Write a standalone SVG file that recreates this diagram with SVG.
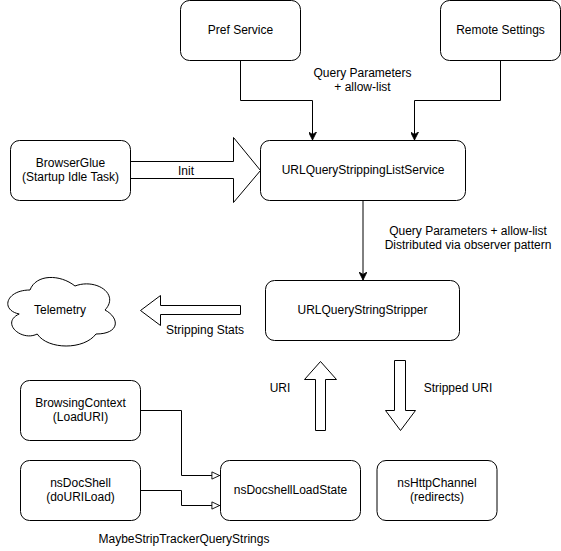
<svg xmlns="http://www.w3.org/2000/svg" width="561" height="551" viewBox="0 0 561 551">
  <defs>
    <style>
      .box { fill: #ffffff; stroke: #000000; stroke-width: 1; }
      .lbl { font-family: "Liberation Sans", Arial, Helvetica, sans-serif; font-size: 12px; fill: #000000; text-anchor: middle; }
      .edge { fill: none; stroke: #000000; stroke-width: 1; }
      .fat { fill: #ffffff; stroke: #000000; stroke-width: 1; stroke-linejoin: miter; }
    </style>
    <marker id="classic" viewBox="0 0 10 10" refX="10" refY="5" markerWidth="8" markerHeight="8" markerUnits="userSpaceOnUse" orient="auto">
      <path d="M0,0 L10,5 L0,10 L3,5 Z" fill="#000000" stroke="#000000" stroke-width="1"/>
    </marker>
    <marker id="block" viewBox="0 0 10 10" refX="10" refY="5" markerWidth="9" markerHeight="9" markerUnits="userSpaceOnUse" orient="auto">
      <path d="M1,1 L9.5,5 L1,9 Z" fill="#ffffff" stroke="#000000" stroke-width="1"/>
    </marker>
  </defs>
  <rect x="0" y="0" width="561" height="551" fill="#ffffff"/>

  <g id="connectors">
    <path class="edge" d="M240.5,60.5 V100.5 H312.5 V140" marker-end="url(#classic)"/>
    <path class="edge" d="M500.5,60.5 V100.5 H414.5 V140" marker-end="url(#classic)"/>
    <path class="edge" d="M363,200.5 V280" marker-end="url(#classic)"/>
    <path class="edge" d="M140.5,410.5 H181.5 V475.5 H220" marker-end="url(#block)"/>
    <path class="edge" d="M140.5,490.5 H181.5 V505.5 H220" marker-end="url(#block)"/>
    <path id="arrow-init" class="fat" d="M130.5,161.5 H233.5 V137.5 L260.5,170.5 L233.5,202.5 V178.5 H130.5"/>
    <path id="arrow-stats" class="fat" d="M240.5,305.5 H160.5 V295.5 L140.5,310.5 L160.5,325.5 V314.5 H240.5 Z"/>
    <path id="arrow-uri" class="fat" d="M315.5,430.5 V379.5 H304.5 L320.5,361.5 L336.5,379.5 H325.5 V430.5 Z"/>
    <path id="arrow-stripped" class="fat" d="M394.5,360.5 V410.5 H385.5 L400.5,430.5 L415.5,410.5 H405.5 V360.5 Z"/>
    <text class="lbl" x="362.5" y="77">Query Parameters</text>
    <text class="lbl" x="362.5" y="91">+ allow-list</text>
    <text class="lbl" x="186" y="175">Init</text>
    <text class="lbl" x="468" y="235">Query Parameters + allow-list</text>
    <text class="lbl" x="468" y="249">Distributed via observer pattern</text>
    <text class="lbl" x="205" y="334">Stripping Stats</text>
    <text class="lbl" x="280" y="392">URI</text>
    <text class="lbl" x="458" y="392">Stripped URI</text>
    <text class="lbl" x="184" y="543">MaybeStripTrackerQueryStrings</text>
  </g>

  <g id="pref-service">
    <rect class="box" x="180.5" y="0.5" width="120" height="60" rx="9" ry="9"/>
    <text class="lbl" x="240.5" y="34">Pref Service</text>
  </g>
  <g id="remote-settings">
    <rect class="box" x="440.5" y="0.5" width="120" height="60" rx="9" ry="9"/>
    <text class="lbl" x="500.5" y="34">Remote Settings</text>
  </g>
  <g id="browser-glue">
    <rect class="box" x="10.5" y="140.5" width="120" height="60" rx="9" ry="9"/>
    <text class="lbl" x="70.5" y="167">BrowserGlue</text>
    <text class="lbl" x="70.5" y="181">(Startup Idle Task)</text>
  </g>
  <g id="list-service">
    <rect class="box" x="260.5" y="140.5" width="205" height="60" rx="9" ry="9"/>
    <text class="lbl" x="363" y="174">URLQueryStrippingListService</text>
  </g>
  <g id="telemetry">
    <path class="box" d="M30,290 C6,290 0,310 19.2,314 C0,322.8 21.6,342 37.2,334 C48,350 84,350 96,334 C120,334 120,318 105,310 C120,294 96,278 75,286 C60,274 36,274 30,290 Z"/>
    <text class="lbl" x="60" y="314">Telemetry</text>
  </g>
  <g id="stripper">
    <rect class="box" x="265.5" y="280.5" width="194" height="60" rx="9" ry="9"/>
    <text class="lbl" x="362.5" y="314">URLQueryStringStripper</text>
  </g>
  <g id="browsing-context">
    <rect class="box" x="20.5" y="380.5" width="120" height="60" rx="9" ry="9"/>
    <text class="lbl" x="80.5" y="407">BrowsingContext</text>
    <text class="lbl" x="80.5" y="421">(LoadURI)</text>
  </g>
  <g id="nsdocshell">
    <rect class="box" x="20.5" y="460.5" width="120" height="60" rx="9" ry="9"/>
    <text class="lbl" x="80.5" y="487">nsDocShell</text>
    <text class="lbl" x="80.5" y="501">(doURILoad)</text>
  </g>
  <g id="load-state">
    <rect class="box" x="220.5" y="460.5" width="140" height="60" rx="9" ry="9"/>
    <text class="lbl" x="290.5" y="494">nsDocshellLoadState</text>
  </g>
  <g id="http-channel">
    <rect class="box" x="377" y="460.5" width="120" height="60" rx="9" ry="9"/>
    <text class="lbl" x="437" y="487">nsHttpChannel</text>
    <text class="lbl" x="437" y="501">(redirects)</text>
  </g>
</svg>
